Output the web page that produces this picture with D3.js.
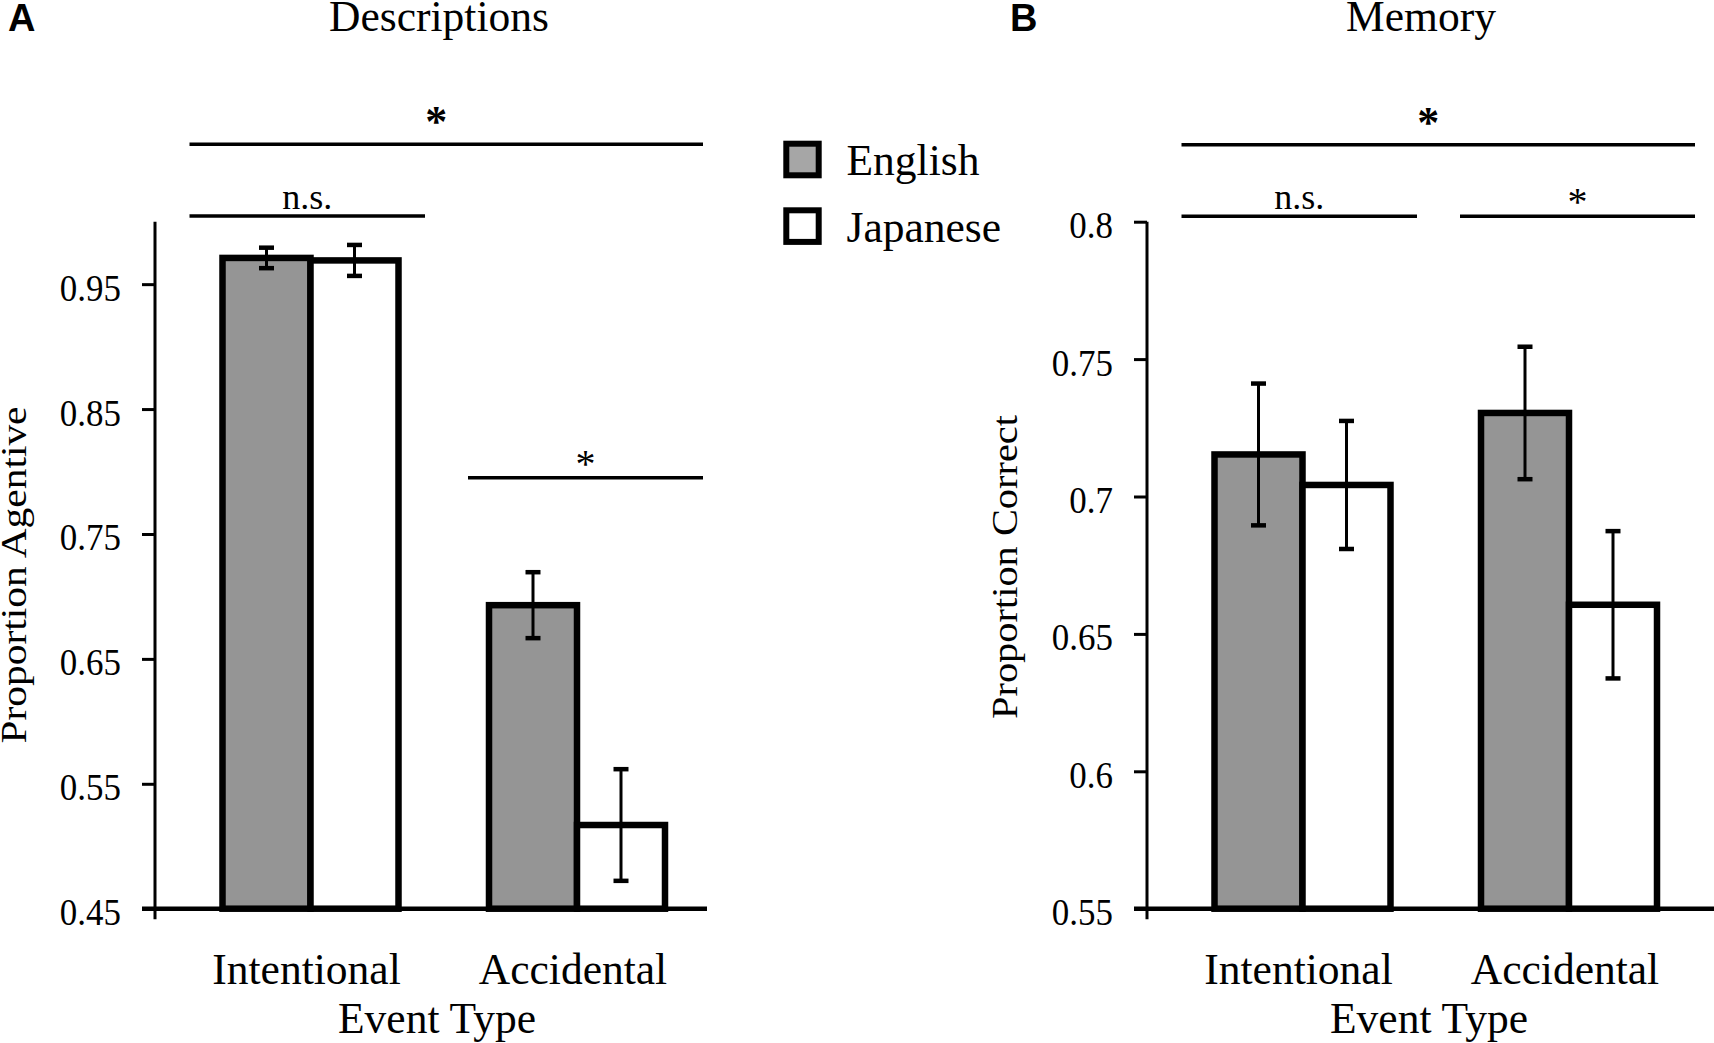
<!DOCTYPE html>
<html>
<head>
<meta charset="utf-8">
<script src="https://cdn.jsdelivr.net/npm/d3@7"></script>
<style>
  body { margin: 0; background: #fff; }
  text { font-family: "Liberation Serif", "Times New Roman", serif; fill: #000; }
</style>
</head>
<body>
<svg id="chart" width="1714" height="1043"></svg>
<script>
//  data
const categories = ["Intentional", "Accidental"];
const languages = ["English", "Japanese"];

//  A : descriptions
const descEnglish = [0.971, 0.693];
const descEnglishErr = [0.0082, 0.0264];
const descJapanese = [0.969, 0.517];
const descJapaneseErr = [0.0124, 0.0447];
const descTicks = [0.45, 0.55, 0.65, 0.75, 0.85, 0.95];
const descTickLabels = ["0.45", "0.55", "0.65", "0.75", "0.85", "0.95"];
const descSig = [
  {from: "Intentional", to: "Accidental", level: 1.062, label: "*", bold: true},
  {from: "Intentional", to: "Intentional", level: 1.0045, label: "n.s.", bold: false},
  {from: "Accidental", to: "Accidental", level: 0.795, label: "*", bold: false}
];

//  B : memory
const memEnglish = [0.7153, 0.7304];
const memEnglishErr = [0.0258, 0.0241];
const memJapanese = [0.7042, 0.6606];
const memJapaneseErr = [0.0233, 0.0268];
const memTicks = [0.55, 0.6, 0.65, 0.7, 0.75, 0.8];
const memTickLabels = ["0.55", "0.6", "0.65", "0.7", "0.75", "0.8"];
const memSig = [
  {from: "Intentional", to: "Accidental", level: 0.828, label: "*", bold: true},
  {from: "Intentional", to: "Intentional", level: 0.802, label: "n.s.", bold: false},
  {from: "Accidental", to: "Accidental", level: 0.802, label: "*", bold: false}
];

const svg = d3.select("#chart");
const fillColor = {English: "#959595", Japanese: "#ffffff"};

function draw_panel(p) {
  const g = svg.append("g");
  const yTop = 221.7, yBottom = 908.7;

  const y = d3.scaleLinear().domain(p.yDomain).range([yBottom, yTop]);
  const x = d3.scalePoint().domain(categories).range([p.axisX + 155.5, p.axisX + 422]);
  const sub = d3.scaleBand().domain(languages).range([-88, 88]);

  const series = {
    English: {v: p.english, e: p.englishErr},
    Japanese: {v: p.japanese, e: p.japaneseErr}
  };

  //  bars
  categories.forEach((c, i) => {
    languages.forEach(lang => {
      const v = series[lang].v[i];
      g.append("rect")
        .attr("x", x(c) + sub(lang))
        .attr("y", y(v))
        .attr("width", sub.bandwidth())
        .attr("height", y(p.yDomain[0]) - y(v))
        .attr("fill", fillColor[lang])
        .attr("stroke", "#000")
        .attr("stroke-width", 6.5);
    });
  });

  //  error bars
  categories.forEach((c, i) => {
    languages.forEach(lang => {
      const v = series[lang].v[i], e = series[lang].e[i];
      const cx = x(c) + sub(lang) + sub.bandwidth() / 2;
      g.append("line")
        .attr("x1", cx).attr("x2", cx)
        .attr("y1", y(v + e)).attr("y2", y(v - e))
        .attr("stroke", "#000").attr("stroke-width", 3);
      [v + e, v - e].forEach(val => {
        g.append("line")
          .attr("x1", cx - 7.5).attr("x2", cx + 7.5)
          .attr("y1", y(val)).attr("y2", y(val))
          .attr("stroke", "#000").attr("stroke-width", 4.5);
      });
    });
  });

  //  y axis
  const yAxis = d3.axisLeft(y)
    .tickValues(p.ticks)
    .tickFormat((d, i) => p.tickLabels[i])
    .tickSize(13)
    .tickPadding(21);

  const ga = g.append("g")
    .attr("transform", `translate(${p.axisX},0)`)
    .call(yAxis);
  ga.select(".domain").remove();
  ga.selectAll(".tick line").attr("stroke", "#000").attr("stroke-width", 3);
  //  labels are a bit narrow in the original
  ga.selectAll(".tick text")
    .attr("x", -34 / 0.92)
    .attr("dy", "0.42em")
    .attr("transform", "scale(0.92,1)")
    .style("font-family", "'Liberation Serif', serif")
    .style("font-size", "38px")
    .attr("fill", "#000");

  g.append("line")
    .attr("x1", p.axisX).attr("x2", p.axisX)
    .attr("y1", yTop).attr("y2", yBottom + 10.5)
    .attr("stroke", "#000").attr("stroke-width", 3);

  //  x axis
  const xAxis = d3.axisBottom(x).tickSize(0).tickPadding(44);
  const gx = g.append("g")
    .attr("transform", `translate(0,${yBottom})`)
    .call(xAxis);
  gx.select(".domain").remove();
  gx.selectAll(".tick text")
    .attr("dx", -4.5)
    .style("font-family", "'Liberation Serif', serif")
    .style("font-size", "43.5px")
    .attr("fill", "#000");

  g.append("line")
    .attr("x1", p.axisX - 13).attr("x2", p.axisEnd)
    .attr("y1", yBottom).attr("y2", yBottom)
    .attr("stroke", "#000").attr("stroke-width", 4.5);

  g.append("text")
    .attr("x", p.axisX + 282)
    .attr("y", 1033.3)
    .attr("text-anchor", "middle")
    .style("font-size", "43.5px")
    .text("Event Type");

  //  y label
  g.append("text")
    .attr("transform", `translate(${p.yLabelX},${p.yLabelY}) rotate(-90)`)
    .attr("text-anchor", "middle")
    .attr("textLength", p.yLabelLen)
    .attr("lengthAdjust", "spacingAndGlyphs")
    .style("font-size", "36px")
    .text(p.yLabel);

  //  title and panel letter
  g.append("text")
    .attr("x", p.titleX).attr("y", 31)
    .attr("text-anchor", "middle")
    .style("font-size", "43.5px")
    .text(p.title);

  g.append("text")
    .attr("x", p.letterX).attr("y", 31)
    .style("font-family", "'Liberation Sans', Arial, sans-serif")
    .style("font-weight", "bold")
    .style("font-size", "38px")
    .text(p.letter);

  //  significance lines, reaching further out at the outer ends
  const last = categories.length - 1;
  p.sig.forEach(s => {
    const x1 = x(s.from) - (categories.indexOf(s.from) === 0 ? 121 : 109);
    const x2 = x(s.to) + (categories.indexOf(s.to) === last ? 126 : 114.5);
    const ly = y(s.level);
    g.append("line")
      .attr("x1", x1).attr("x2", x2)
      .attr("y1", ly).attr("y2", ly)
      .attr("stroke", "#000").attr("stroke-width", 3.5);
    g.append("text")
      .attr("x", (x1 + x2) / 2 + (s.bold ? -10 : 0))
      .attr("y", s.bold ? ly - 8 : (s.label === "*" ? ly - 1 : ly - 7.5))
      .attr("text-anchor", "middle")
      .style("font-weight", s.bold ? "bold" : "normal")
      .style("font-size", s.label === "*" ? (s.bold ? "44px" : "40px") : "36px")
      .text(s.label);
  });
}

//  legend
function draw_legend() {
  const g = svg.append("g");
  const legendFill = {English: "#a6a6a6", Japanese: "#ffffff"};
  languages.forEach((lang, i) => {
    const top = 143.7 + i * 66.6;
    g.append("rect")
      .attr("x", 786.3).attr("y", top)
      .attr("width", 32.4).attr("height", 31.6)
      .attr("fill", legendFill[lang])
      .attr("stroke", "#000").attr("stroke-width", 6);
    g.append("text")
      .attr("x", 846.5).attr("y", top + 31.5)
      .style("font-size", "43.5px")
      .text(lang);
  });
}

draw_panel({
  axisX: 155, axisEnd: 707, yDomain: [0.45, 1.0],
  english: descEnglish, englishErr: descEnglishErr,
  japanese: descJapanese, japaneseErr: descJapaneseErr,
  ticks: descTicks, tickLabels: descTickLabels, sig: descSig,
  yLabel: "Proportion Agentive", yLabelX: 26, yLabelY: 575, yLabelLen: 337,
  title: "Descriptions", titleX: 439, letter: "A", letterX: 8
});

draw_panel({
  axisX: 1147, axisEnd: 1720, yDomain: [0.55, 0.8],
  english: memEnglish, englishErr: memEnglishErr,
  japanese: memJapanese, japaneseErr: memJapaneseErr,
  ticks: memTicks, tickLabels: memTickLabels, sig: memSig,
  yLabel: "Proportion Correct", yLabelX: 1017, yLabelY: 567, yLabelLen: 304,
  title: "Memory", titleX: 1421, letter: "B", letterX: 1010
});

draw_legend();
</script>
</body>
</html>
